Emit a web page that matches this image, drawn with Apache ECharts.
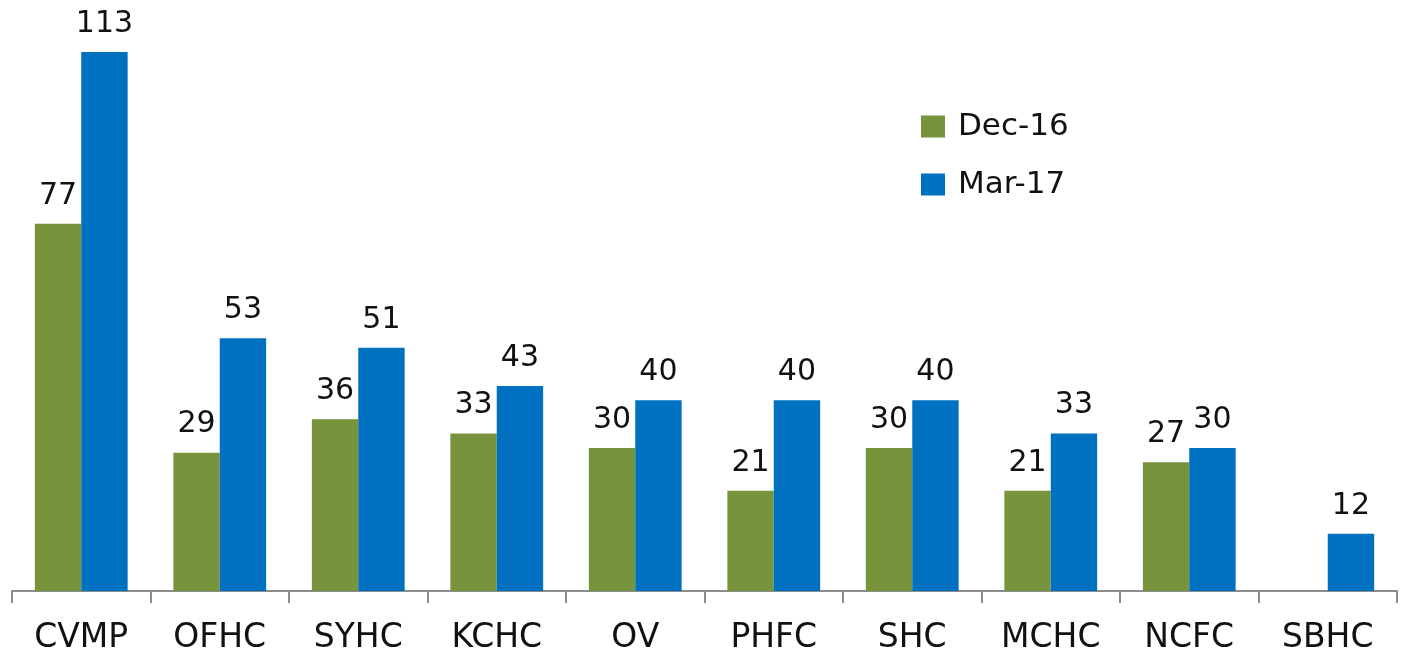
<!DOCTYPE html>
<html>
<head>
<meta charset="utf-8">
<script src="https://cdn.jsdelivr.net/npm/echarts@6/dist/echarts.min.js"></script>
<style>
  html, body { margin: 0; padding: 0; background: #fff; }
  #chart { width: 1402px; height: 660px; }
</style>
</head>
<body>
<div id="chart"></div>
<script>
  // 数据
  var categories = ['CVMP', 'OFHC', 'SYHC', 'KCHC', 'OV', 'PHFC', 'SHC', 'MCHC', 'NCFC', 'SBHC'];
  var dec16 = [77, 29, 36, 33, 30, 21, 30, 21, 27, null];
  var mar17 = [113, 53, 51, 43, 40, 40, 40, 33, 30, 12];

  var font = 'DejaVu Sans';
  var chart = echarts.init(document.getElementById('chart'));

  var labelStyle = {
    show: true,
    position: 'top',
    distance: 13,
    color: '#111',
    fontSize: 30,
    fontFamily: font
  };

  var option = {
    animation: false,
    legend: {
      orient: 'vertical',
      left: 916,
      top: 106,
      itemWidth: 24,
      itemHeight: 22,
      itemGap: 27,
      icon: 'rect',
      textStyle: { fontSize: 31, color: '#111', fontFamily: font, padding: [0, 0, 0, 8] },
      data: ['Dec-16', 'Mar-17']
    },
    grid: { left: 12, right: 5, top: 52, bottom: 69 },
    xAxis: {
      type: 'category',
      data: categories,
      axisLine: { lineStyle: { color: '#8c8c8c', width: 2 } },
      axisTick: { show: true, length: 12, lineStyle: { color: '#8c8c8c', width: 2 } },
      axisLabel: { color: '#111', fontSize: 33, fontFamily: font, margin: 31 }
    },
    yAxis: {
      type: 'value',
      min: 0,
      max: 113,
      show: false,
      splitLine: { show: false }
    },
    series: [{
      name: 'Dec-16',
      type: 'bar',
      data: dec16,
      barGap: '0%',
      barCategoryGap: '33%',
      itemStyle: { color: '#77933C' },
      label: labelStyle
    }, {
      name: 'Mar-17',
      type: 'bar',
      data: mar17,
      itemStyle: { color: '#0070C0' },
      label: labelStyle
    }]
  };

  chart.setOption(option);
</script>
</body>
</html>
